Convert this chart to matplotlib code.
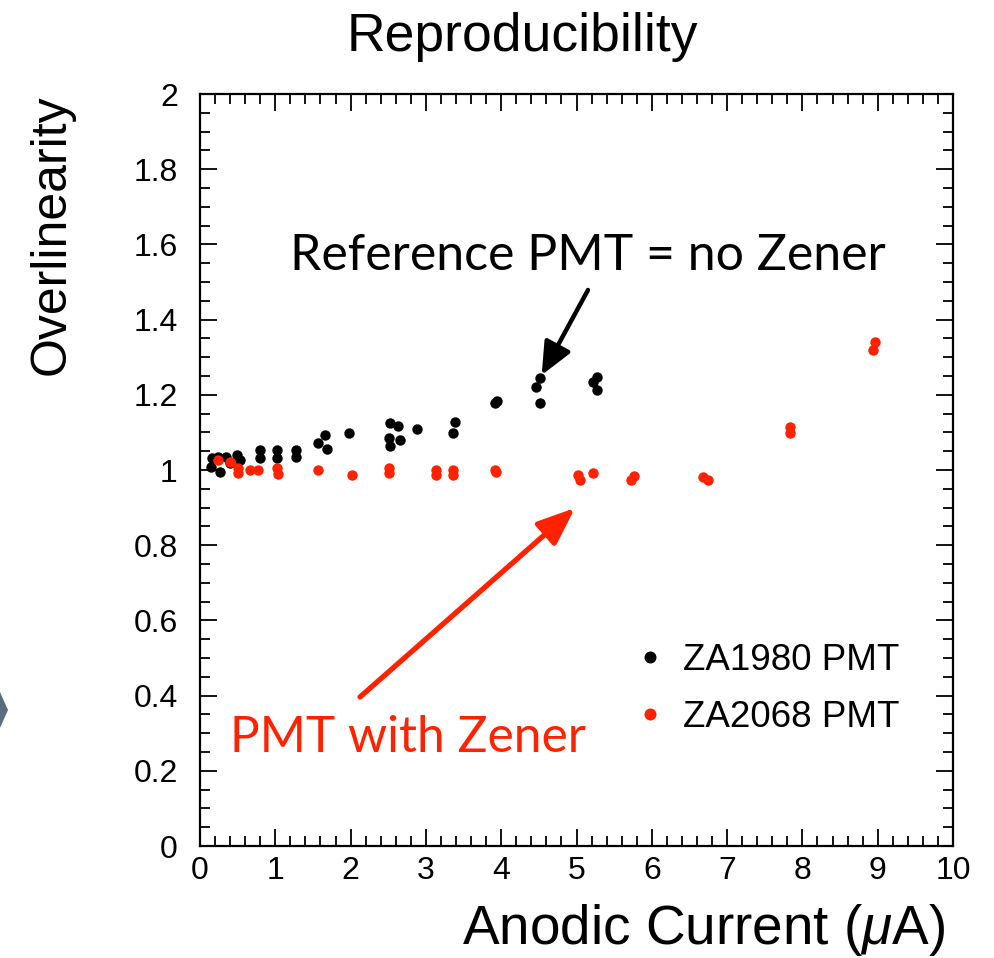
import matplotlib
matplotlib.use("Agg")
import matplotlib.pyplot as plt
from matplotlib.ticker import MultipleLocator
from matplotlib.patches import Polygon

# ---------------- data ----------------
za1980_x = [0.14, 0.16, 0.24, 0.26, 0.35, 0.40, 0.49, 0.53, 0.80, 0.80, 1.02, 1.02,
            1.28, 1.28, 1.57, 1.66, 1.68, 1.98, 2.51, 2.52, 2.52, 2.63, 2.66, 2.88,
            3.36, 3.38, 3.92, 3.94, 4.46, 4.52, 4.52, 5.22, 5.27, 5.27]
za1980_y = [1.009, 1.031, 1.035, 0.995, 1.035, 1.018, 1.040, 1.027, 1.053, 1.031, 1.053, 1.031,
            1.053, 1.035, 1.071, 1.093, 1.055, 1.099, 1.084, 1.126, 1.064, 1.116, 1.080, 1.110,
            1.099, 1.128, 1.178, 1.184, 1.221, 1.246, 1.177, 1.234, 1.248, 1.212]

za2068_x = [0.24, 0.40, 0.51, 0.51, 0.66, 0.77, 1.02, 1.04, 1.57, 2.02, 2.51, 2.51, 3.13, 3.14,
            3.36, 3.36, 3.92, 3.93, 5.02, 5.05, 5.22, 5.73, 5.76, 6.68, 6.75, 7.83, 7.84, 8.94, 8.96]
za2068_y = [1.027, 1.022, 1.004, 0.991, 1.000, 1.000, 1.004, 0.989, 1.000, 0.987, 1.004, 0.991,
            1.000, 0.987, 1.000, 0.987, 1.000, 0.995, 0.987, 0.973, 0.991, 0.973, 0.984, 0.982,
            0.973, 1.115, 1.098, 1.319, 1.341]

series_labels = ["ZA1980 PMT", "ZA2068 PMT"]
title = "Reproducibility"
xlabel = r"Anodic Current ($\mu$A)"
ylabel = "Overlinearity"
note_ref = "Reference PMT = no Zener"
note_zener = "PMT with Zener"

# ---------------- style ----------------
plt.rcParams["font.family"] = ["Liberation Sans", "DejaVu Sans"]
plt.rcParams["mathtext.fontset"] = "custom"
plt.rcParams["mathtext.rm"] = "Liberation Sans"
plt.rcParams["mathtext.it"] = "Liberation Sans:italic"

RED = "#ff2200"
W, H = 995, 958
fig = plt.figure(figsize=(W / 100, H / 100), dpi=100)


def fpx(x, y):
    return (x / W, 1 - y / H)


ax = fig.add_axes([200 / W, 1 - 846 / H, 753 / W, 752 / H])
ax.plot(za1980_x, za1980_y, "o", ms=7.5, color="black", mec="none", label=series_labels[0])
ax.plot(za2068_x, za2068_y, "o", ms=7.5, color=RED, mec="none", label=series_labels[1])

ax.set_xlim(0, 10)
ax.set_ylim(0, 2)
ax.xaxis.set_major_locator(MultipleLocator(1))
ax.xaxis.set_minor_locator(MultipleLocator(0.2))
ax.yaxis.set_major_locator(MultipleLocator(0.2))
ax.yaxis.set_minor_locator(MultipleLocator(0.05))
ax.yaxis.set_major_formatter(plt.FuncFormatter(lambda v, p: "0" if abs(v) < 1e-9 else ("%g" % v)))
ax.tick_params(which="both", direction="in", top=True, right=True, width=1.3, colors="black")
ax.tick_params(which="major", length=12, labelsize=23, pad=16)
ax.tick_params(axis="x", which="major", pad=7)
ax.tick_params(which="minor", length=7)
for s in ax.spines.values():
    s.set_linewidth(1.6)

leg = ax.legend(loc="upper left", bbox_to_anchor=fpx(639, 643), bbox_transform=fig.transFigure,
                frameon=False, fontsize=26.5, handlelength=0.6, handletextpad=0.6,
                labelspacing=0.6, markerscale=1.15, borderpad=0, borderaxespad=0)

fig.text(*fpx(522, 37), title, ha="center", va="center", fontsize=38.5)
fig.text(*fpx(945, 930), xlabel, ha="right", va="center", fontsize=39.5)
fig.text(*fpx(52, 235), ylabel, ha="center", va="center", rotation=90, fontsize=36)

fig.text(*fpx(290, 270), note_ref, ha="left", va="baseline", fontsize=36,
         family=["Lato", "DejaVu Sans"], color="black")
fig.text(*fpx(230, 752), note_zener, ha="left", va="baseline", fontsize=35.8,
         family=["Lato", "DejaVu Sans"], color=RED)

ax.annotate("", xy=(za1980_x[29], za1980_y[29]), xycoords="data",
            xytext=fpx(588, 290), textcoords="figure fraction",
            arrowprops=dict(arrowstyle="-|>,head_length=0.9,head_width=0.4", lw=3.2,
                            color="black", mutation_scale=22, shrinkA=0, shrinkB=2))
ax.annotate("", xy=fpx(575, 508), xycoords="figure fraction",
            xytext=fpx(360, 697), textcoords="figure fraction",
            arrowprops=dict(arrowstyle="-|>,head_length=0.95,head_width=0.38", lw=3.8,
                            color=RED, mutation_scale=24, shrinkA=0, shrinkB=0))

# partial slide decoration at the left edge
chev = Polygon([fpx(0, 692), fpx(8, 710), fpx(0, 728)], closed=True,
               transform=fig.transFigure, facecolor="#5b6e80", edgecolor="none")
fig.patches.append(chev)

fig.savefig("out.png", dpi=100)
